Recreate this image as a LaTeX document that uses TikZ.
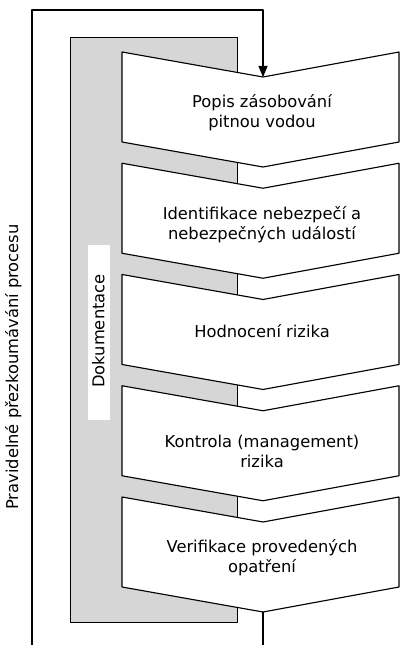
\documentclass[tikz,border=0pt]{standalone}
\usepackage{fontspec}
\setmainfont{DejaVu Sans}
\usetikzlibrary{arrows}

\begin{document}
\begin{tikzpicture}[line cap=round,line join=round,>=triangle 45,x=1.0cm,y=1.0cm,
  krok/.style={align=center,font=\fontsize{11.6}{14.2}\selectfont}]
\clip(0.,0.) rectangle (10.,16.125);
% vnejsi smycka prezkoumavani
\coordinate (zacatek) at (6.575,15.875);
\coordinate (roh) at (0.8,15.875);
\coordinate (dole) at (0.8,-0.1);
\coordinate (konec) at (6.575,-0.1);
\draw [line width=0.8pt] (dole)-- (roh)-- (zacatek);
% dokumentace
\draw [line width=0.6pt,fill=black!16] (1.75,0.575) rectangle (5.925,15.2);
\fill [white] (2.2,5.625) rectangle (2.75,10.);
\draw[color=black] (2.46,7.85) node (dokumentace) [krok,rotate=90] {Dokumentace};
\draw[color=black] (0.33,6.95) node (prezkoumani) [krok,rotate=90] {Pravidelné přezkoumávání procesu};
% kroky
\draw [line width=0.8pt,fill=white] (3.05,14.825)-- (6.575,14.2)-- (9.975,14.825)-- (9.975,12.575)-- (6.575,11.95)-- (3.05,12.575)-- cycle;
\draw [line width=0.8pt,fill=white] (3.05,12.044)-- (6.575,11.419)-- (9.975,12.044)-- (9.975,9.794)-- (6.575,9.169)-- (3.05,9.794)-- cycle;
\draw [line width=0.8pt,fill=white] (3.05,9.263)-- (6.575,8.638)-- (9.975,9.263)-- (9.975,7.013)-- (6.575,6.388)-- (3.05,7.013)-- cycle;
\draw [line width=0.8pt,fill=white] (3.05,6.481)-- (6.575,5.856)-- (9.975,6.481)-- (9.975,4.231)-- (6.575,3.606)-- (3.05,4.231)-- cycle;
\draw [line width=0.8pt,fill=white] (3.05,3.7)-- (6.575,3.075)-- (9.975,3.7)-- (9.975,1.45)-- (6.575,0.825)-- (3.05,1.45)-- cycle;
\coordinate (vstup) at (6.575,14.2);
\coordinate (vystup) at (6.575,0.825);
\draw[color=black] (6.55,13.3) node (popis) [krok] {Popis zásobování\\pitnou vodou};
\draw[color=black] (6.55,10.5) node (identifikace) [krok] {Identifikace nebezpečí a\\nebezpečných událostí};
\draw[color=black] (6.55,7.85) node (hodnoceni) [krok] {Hodnocení rizika};
\draw[color=black] (6.55,4.83) node (kontrola) [krok] {Kontrola (management)\\rizika};
\draw[color=black] (6.55,2.18) node (verifikace) [krok] {Verifikace provedených\\opatření};
% sipky
\draw [line width=0.8pt,->] (zacatek)-- (vstup);
\draw [line width=0.8pt] (vystup)-- (konec);
\end{tikzpicture}
\end{document}
